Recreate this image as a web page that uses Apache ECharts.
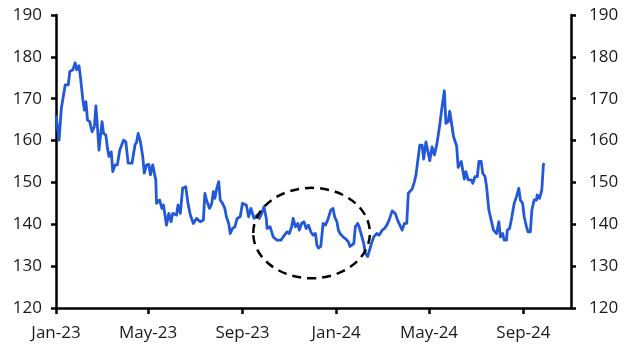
<!DOCTYPE html>
<html>
<head>
<meta charset="utf-8">
<script src="https://cdn.jsdelivr.net/npm/echarts@6/dist/echarts.min.js"></script>
<style>html,body{margin:0;padding:0;background:#fff}#c{width:628px;height:360px}</style>
</head>
<body>
<div id="c"></div>
<script>
// days after 2023-01-01 for each observation
const dayOffsets = [
  0,4,7,12,16,18,22,25,27,30,
  32,35,37,39,41,44,47,50,52,54,
  56,60,62,65,67,69,72,74,77,80,
  83,88,91,94,99,101,103,105,107,110,
  113,115,118,121,123,126,128,130,131,135,
  138,140,144,147,150,152,157,159,162,165,
  169,172,175,179,183,188,192,194,196,200,
  203,205,207,209,212,214,217,220,222,225,
  227,230,233,236,240,243,248,251,254,258,
  262,265,268,271,274,275,279,283,288,293,
  296,301,304,307,309,312,315,317,320,323,
  326,329,332,335,338,340,342,345,348,351,
  354,356,358,361,363,366,368,370,374,377,
  381,383,385,388,390,393,395,398,401,403,
  406,408,411,414,418,421,425,428,431,434,
  438,440,442,445,447,451,454,457,459,464,
  467,469,471,474,477,479,482,484,487,490,
  493,496,500,502,503,506,508,511,513,515,
  518,520,522,524,528,532,534,537,541,543,
  546,549,551,554,556,559,561,564,567,570,
  574,577,579,582,584,587,588,591,594,597,
  600,603,605,608,610,613,615,618,620,623,
  626,627,630,633,635,636
];
const values = [
  166,160.1,167.8,173.3,173.3,176.5,176.9,178.6,176.9,177.9,
  174.9,169.7,167.3,169.3,164.9,164.5,162.1,163.3,168.3,163.3,
  157.7,164.5,161.7,161.3,158.2,156.2,157.3,152.6,154.2,154.2,
  157.7,160.1,159.7,154.6,154.6,154.3,159,159.6,161.7,159.7,
  156.2,152.2,154.2,154.3,151.8,154.2,154,150.6,145,145.8,
  143.8,144.6,139.8,142.6,140.6,142.6,142.2,144.6,142.6,148.6,
  149,145,142.2,140.2,141.4,140.6,141,147.4,145.8,143.8,
  145,147.8,146.2,148.2,150.2,145.8,145,143.8,141.8,140.2,
  137.8,139,139.4,141.4,141.8,145,144.6,141.8,143.8,141.4,
  142.2,141.4,142.6,144.2,141.4,139,139.4,137,136.2,136.2,
  137,138.2,137.8,139.4,141.4,139.4,140.2,138.6,140.2,140.6,
  139,139.8,138.2,137.4,137.8,135,134.3,134.7,140.2,139.8,
  141,141.4,143.4,143.8,141.8,140.6,138.6,137.8,137,136.6,
  135.8,134.7,135,135.4,139.4,140.2,139.4,137.4,135.4,133.1,
  132.3,133.5,135.4,137,137.8,137.4,138.6,139,139.8,141,
  143.2,143.6,142.6,141,140.2,138.6,140.2,140.2,147.4,148.4,
  150.2,151.8,151.4,158.9,158.9,155.6,159.7,159.7,155.2,158.5,
  156.6,158.9,163.7,163.3,168.1,171.9,164.1,164.5,167,166.9,
  160.9,160.7,158.7,153.6,155,150.8,152.6,150.6,150.6,149.8,
  151.4,151.4,155,155,152.2,151.4,149,143.4,141,138.6,
  137.8,140.6,137,137.8,136.2,136.2,138.6,139,141.8,145,
  146.6,148.6,145.8,145,141.8,139.4,138.2,138.2,143.4,145.8,
  145.8,147,146.2,148.2,154.2,154.6
];
const tickDates = ['2023-01-01','2023-05-01','2023-09-01','2024-01-01','2024-05-01','2024-09-01'];
const tickLabels = ['Jan-23','May-23','Sep-23','Jan-24','May-24','Sep-24'];
const yTicks = [120,130,140,150,160,170,180,190];
const axisStart = '2023-01-01';
const axisEnd = '2024-11-02';
// annotation ellipse: centre date, centre value, half-width in days, half-height in index points
const ellipseCentre = ['2023-11-30', 137.9];
const ellipseRadius = [76, 10.8];

const DAY = 86400000;
const t0 = Date.parse(axisStart + 'T00:00:00Z');
const seriesData = dayOffsets.map((d, i) => [t0 + d * DAY, values[i]]);
const tickTimes = tickDates.map(s => Date.parse(s + 'T00:00:00Z'));
const font = 'Open Sans';

const chart = echarts.init(document.getElementById('c'), null, {renderer: 'canvas'});
const yAxisCommon = {
  type: 'value', min: yTicks[0], max: yTicks[yTicks.length - 1], interval: 10,
  axisLine: {show: true, lineStyle: {color: '#000', width: 2.5}},
  axisTick: {show: true, length: 5, lineStyle: {color: '#000', width: 2.5}},
  splitLine: {show: false},
  axisLabel: {color: '#1a1a1a', fontFamily: font, fontSize: 17}
};
chart.setOption({
  animation: false,
  grid: {left: 56, right: 57, top: 15, bottom: 52, containLabel: false, outerBoundsMode: 'none'},
  xAxis: {
    type: 'value',
    min: t0,
    max: Date.parse(axisEnd + 'T00:00:00Z'),
    scale: true,
    axisLine: {show: true, onZero: false, lineStyle: {color: '#000', width: 2.5}},
    axisTick: {show: true, length: 6, customValues: tickTimes, lineStyle: {color: '#000', width: 2.5}},
    splitLine: {show: false},
    axisLabel: {
      customValues: tickTimes,
      color: '#1a1a1a', fontFamily: font, fontSize: 17, margin: 17,
      formatter: function (v) {
        for (let i = 0; i < tickTimes.length; i++) {
          if (Math.abs(tickTimes[i] - v) < DAY / 2) return tickLabels[i];
        }
        return '';
      }
    }
  },
  yAxis: [
    Object.assign({}, yAxisCommon, {position: 'left', axisLabel: Object.assign({}, yAxisCommon.axisLabel, {margin: 14})}),
    Object.assign({}, yAxisCommon, {position: 'right', axisLabel: Object.assign({}, yAxisCommon.axisLabel, {margin: 18})})
  ],
  series: [
    {
      type: 'line', data: seriesData, showSymbol: false, symbol: 'none',
      lineStyle: {color: '#2358D6', width: 2.8, join: 'round'},
      itemStyle: {color: '#2358D6'}, z: 3
    },
    {
      type: 'custom', xAxisIndex: 0, yAxisIndex: 0, clip: false, z: 4,
      data: [[Date.parse(ellipseCentre[0] + 'T00:00:00Z'), ellipseCentre[1], ellipseRadius[0] * DAY, ellipseRadius[1]]],
      encode: {x: 0, y: 1},
      renderItem: function (params, api) {
        const c = api.coord([api.value(0), api.value(1)]);
        const s = api.size([api.value(2), api.value(3)]);
        return {
          type: 'ellipse',
          shape: {cx: c[0], cy: c[1], rx: s[0], ry: s[1]},
          style: {fill: null, stroke: '#000', lineWidth: 2.5, lineDash: [9, 6]}
        };
      }
    }
  ]
});
</script>
</body>
</html>
